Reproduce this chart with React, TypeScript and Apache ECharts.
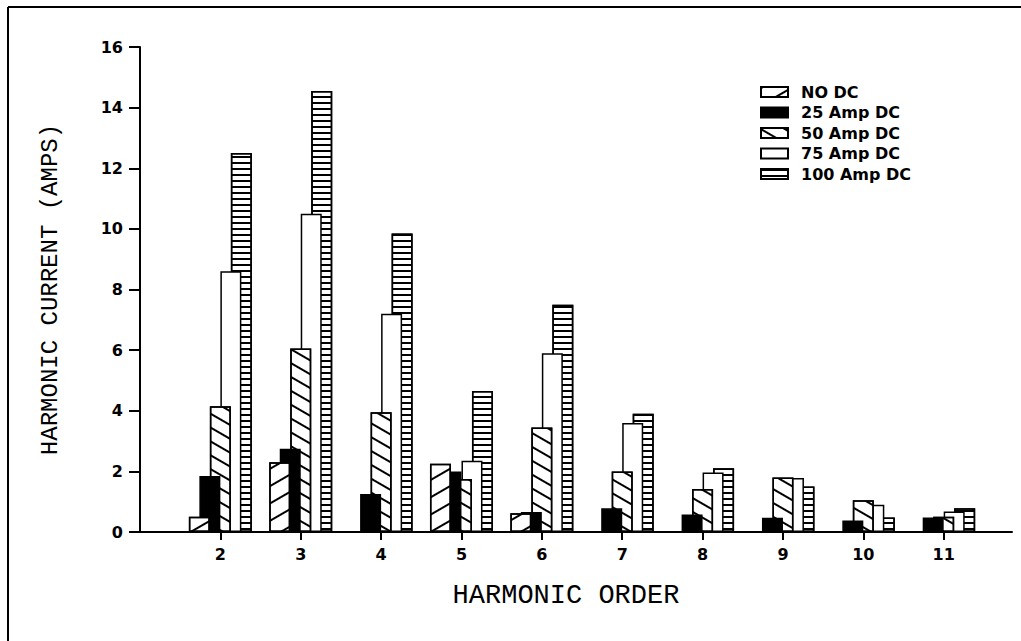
import React, { useEffect, useRef } from "react";
import * as echarts from "echarts";

// Harmonic orders (x categories)
const orders = [2, 3, 4, 5, 6, 7, 8, 9, 10, 11];
const seriesNames = ["NO DC", "25 Amp DC", "50 Amp DC", "75 Amp DC", "100 Amp DC"];

// Harmonic current (amps) per DC offset level
const noDc = [0.5, 2.3, 0, 2.25, 0.62, 0, 0, 0, 0, 0];
const amp25 = [1.85, 2.75, 1.25, 2.0, 0.66, 0.78, 0.58, 0.47, 0.38, 0.48];
const amp50 = [4.15, 6.05, 3.95, 1.75, 3.45, 2.0, 1.42, 1.8, 1.05, 0.5];
const amp75 = [8.6, 10.5, 7.2, 2.35, 5.9, 3.6, 1.96, 1.78, 0.9, 0.68];
const amp100 = [12.5, 14.55, 9.85, 4.65, 7.5, 3.9, 2.1, 1.5, 0.48, 0.78];

// Axis ranges
const yMin = 0;
const yMax = 16;
const yStep = 2;
const xMin = 1;
const xMax = 11.85;

const allValues = [noDc, amp25, amp50, amp75, amp100];

const hatch = (rotation: number, gap: number) => ({
  symbol: "rect",
  symbolSize: 1,
  dashArrayX: [1, 0],
  dashArrayY: [1.5, gap],
  rotation,
  color: "#000",
});

const styles: any[] = [
  { color: "#fff", decal: hatch(-Math.PI / 6, 13) },
  { color: "#000" },
  { color: "#fff", decal: hatch(Math.PI / 6, 10) },
  { color: "#fff" },
  { color: "#fff", decal: hatch(0, 3.2) },
];

const tickFont = {
  fontFamily: "DejaVu Sans",
  fontWeight: "bold" as const,
  fontSize: 16,
  color: "#000",
};

export default function App() {
  const ref = useRef<HTMLDivElement>(null);

  useEffect(() => {
    if (!ref.current) return;
    const chart = echarts.init(ref.current, undefined, { renderer: "svg" });

    const series = seriesNames.map((name, si) => ({
      name,
      type: "bar",
      barWidth: 21,
      barGap: "-50%",
      z: 10 - si,
      itemStyle: {
        ...styles[si],
        borderColor: "#000",
        borderWidth: 1.5,
      },
      data: orders.map((o, i) => [o, allValues[si][i]]),
    }));

    chart.setOption({
      animation: false,
      backgroundColor: "#fff",
      grid: { left: 140, right: 9, top: 47, bottom: 109 },
      legend: {
        orient: "vertical",
        left: 755,
        top: 79,
        itemWidth: 27,
        itemHeight: 10,
        itemGap: 4.5,
        icon: "rect",
        data: seriesNames,
        textStyle: {
          fontFamily: "DejaVu Sans",
          fontWeight: "bold",
          fontSize: 16,
          color: "#000",
          padding: [0, 0, 0, 8],
        },
      },
      xAxis: {
        type: "value",
        min: xMin,
        max: xMax,
        name: "HARMONIC ORDER",
        nameLocation: "middle",
        nameGap: 50,
        nameTextStyle: {
          fontFamily: "Liberation Mono",
          fontSize: 27,
          color: "#000",
          padding: [0, 20, 0, 0],
        },
        axisLine: { show: true, onZero: false, lineStyle: { color: "#000", width: 2 } },
        axisTick: {
          show: true,
          customValues: orders,
          length: 8,
          lineStyle: { color: "#000", width: 2 },
        },
        axisLabel: { ...tickFont, customValues: orders, margin: 14 },
        splitLine: { show: false },
      },
      yAxis: {
        type: "value",
        min: yMin,
        max: yMax,
        interval: yStep,
        name: "HARMONIC CURRENT (AMPS)",
        nameLocation: "middle",
        nameRotate: 90,
        nameGap: 78,
        nameTextStyle: {
          fontFamily: "Liberation Mono",
          fontSize: 24,
          color: "#000",
        },
        axisLine: { show: true, lineStyle: { color: "#000", width: 2 } },
        axisTick: { show: true, length: 11, lineStyle: { color: "#000", width: 2 } },
        axisLabel: { ...tickFont, margin: 17 },
        splitLine: { show: false },
      },
      graphic: [
        {
          type: "line",
          shape: { x1: 8, y1: 7, x2: 1021, y2: 7 },
          style: { stroke: "#000", lineWidth: 2 },
        },
        {
          type: "line",
          shape: { x1: 8, y1: 7, x2: 8, y2: 641 },
          style: { stroke: "#000", lineWidth: 2 },
        },
      ],
      series,
    });

    return () => chart.dispose();
  }, []);

  return (
    <div
      ref={ref}
      style={{ position: "absolute", left: 0, top: 0, width: 1021, height: 641, background: "#fff" }}
    />
  );
}
